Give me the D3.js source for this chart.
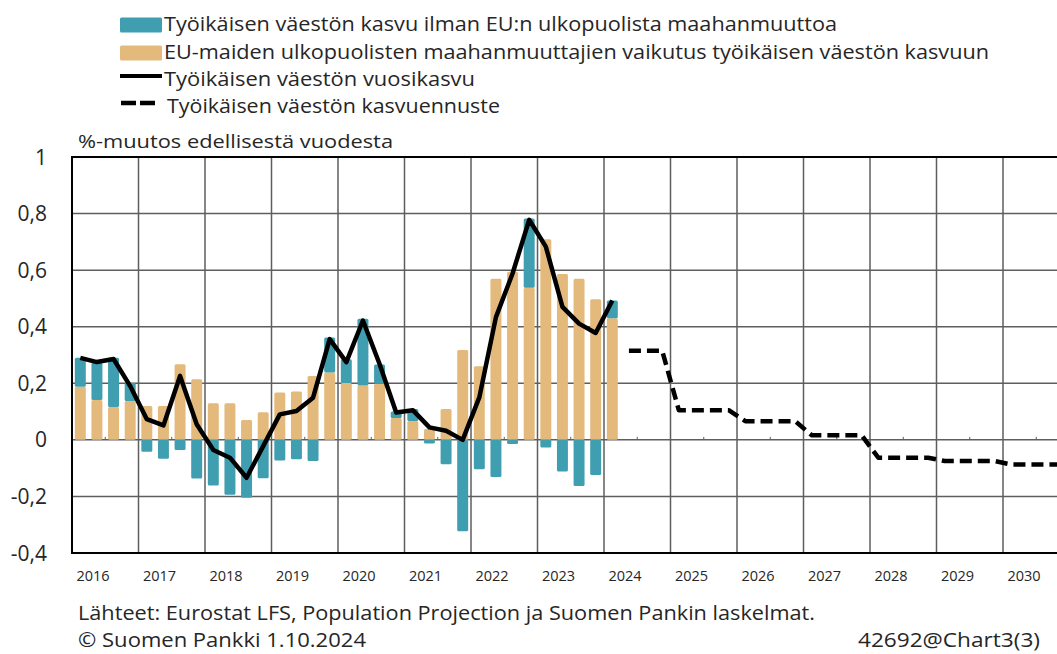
<!DOCTYPE html>
<html>
<head>
<meta charset="utf-8">
<script src="https://cdn.jsdelivr.net/npm/d3@7"></script>
<style>
  body { margin: 0; background: #fff; }
  svg { display: block; font-family: 'Open Sans', 'Noto Sans', sans-serif; }
</style>
</head>
<body>
<svg id="chart" width="1057" height="654"></svg>
<script>
// quarterly history 2016Q1 .. 2024Q1
const years = [2016, 2017, 2018, 2019, 2020, 2021, 2022, 2023, 2024, 2025, 2026, 2027, 2028, 2029, 2030];
const quarters = ['Q1', 'Q2', 'Q3', 'Q4'];

const nonEuImmigration = [
  0.188, 0.141, 0.116, 0.137,
  0.12, 0.12, 0.267, 0.214,
  0.129, 0.129, 0.07, 0.098,
  0.167, 0.171, 0.226, 0.238,
  0.201, 0.192, 0.198, 0.077,
  0.067, 0.038, 0.109, 0.318,
  0.26, 0.57, 0.594, 0.538,
  0.709, 0.586, 0.57, 0.497,
  0.43
];

const growthWithoutNonEu = [
  0.102, 0.132, 0.174, 0.065,
  -0.042, -0.067, -0.036, -0.137,
  -0.161, -0.194, -0.205, -0.136,
  -0.073, -0.069, -0.075, 0.124,
  0.084, 0.236, 0.068, 0.023,
  0.042, -0.013, -0.086, -0.323,
  -0.104, -0.131, -0.015, 0.245,
  -0.027, -0.112, -0.163, -0.124,
  0.063
];

const annualGrowth = [
  0.29, 0.275, 0.286, 0.19,
  0.073, 0.051, 0.226, 0.055,
  -0.036, -0.063, -0.134, -0.022,
  0.09, 0.102, 0.149, 0.356,
  0.275, 0.422, 0.268, 0.097,
  0.105, 0.044, 0.032, 0.0,
  0.15, 0.434, 0.588, 0.778,
  0.683, 0.47, 0.411, 0.378,
  0.493
];

// forecast, one value per year (2024 starts from Q2)
const forecastYears = [2024, 2025, 2026, 2027, 2028, 2029, 2030];
const forecastValues = [0.315, 0.105, 0.066, 0.016, -0.063, -0.075, -0.087];

const yTicks = [-0.4, -0.2, 0, 0.2, 0.4, 0.6, 0.8, 1];

const legendItems = [
  {type: 'rect', color: '#3f9fb0', label: 'Työikäisen väestön kasvu ilman EU:n ulkopuolista maahanmuuttoa', width: 673},
  {type: 'rect', color: '#e4b97c', label: 'EU-maiden ulkopuolisten maahanmuuttajien vaikutus työikäisen väestön kasvuun', width: 825},
  {type: 'line', label: 'Työikäisen väestön vuosikasvu', width: 311},
  {type: 'dash', label: 'Työikäisen väestön kasvuennuste', width: 333}
];

const teal = '#3f9fb0',
      tan = '#e4b97c',
      textColor = '#262626',
      gridColor = '#5e5e5e';

const svg = d3.select('#chart');

const plot = {left: 72, right: 1069.5, top: 157, bottom: 553};

// all quarter keys on the category axis
const keys = years.flatMap(y => quarters.map(q => `${y}${q}`));
const histKeys = keys.slice(0, nonEuImmigration.length);

const x = d3.scaleBand()
  .domain(keys)
  .range([plot.left, plot.right])
  .paddingInner(0.34)
  .paddingOuter(0.17);

const y = d3.scaleLinear()
  .domain([-0.4, 1])
  .range([plot.bottom, plot.top]);

const yearX = d3.scaleLinear()
  .domain([years[0], years[years.length - 1] + 1])
  .range([plot.left, plot.right]);

const cx = k => x(k) + x.bandwidth() / 2;
const fmt = v => String(+v.toFixed(1)).replace('.', ',');

// grid
const grid = svg.append('g').attr('class', 'grid');

grid.selectAll('.hgrid')
  .data(yTicks.filter(v => v > -0.4 && v < 1))
  .enter().append('line')
    .attr('class', 'hgrid')
    .attr('x1', plot.left).attr('x2', plot.right)
    .attr('y1', d => y(d)).attr('y2', d => y(d))
    .attr('stroke', gridColor)
    .attr('stroke-width', 1.5);

grid.selectAll('.vgrid')
  .data(years.slice(1))
  .enter().append('line')
    .attr('class', 'vgrid')
    .attr('x1', d => yearX(d)).attr('x2', d => yearX(d))
    .attr('y1', plot.top).attr('y2', plot.bottom)
    .attr('stroke', gridColor)
    .attr('stroke-width', 1.5);

// small ticks on the zero line at mid-year
grid.selectAll('.zerotick')
  .data(years)
  .enter().append('line')
    .attr('class', 'zerotick')
    .attr('x1', d => yearX(d + 0.5)).attr('x2', d => yearX(d + 0.5))
    .attr('y1', y(0) - 3).attr('y2', y(0))
    .attr('stroke', gridColor)
    .attr('stroke-width', 1);

// stacked bars: tan from zero, teal on top when positive, below zero when negative
const bars = svg.append('g').attr('class', 'bars');

const barData = histKeys.map((k, i) => {
  const a = nonEuImmigration[i], b = growthWithoutNonEu[i];
  const segs = [{key: k, y0: 0, y1: a, color: tan}];
  if (b >= 0) segs.push({key: k, y0: a, y1: a + b, color: teal});
  else segs.push({key: k, y0: 0, y1: b, color: teal});
  return segs;
}).flat();

bars.selectAll('rect')
  .data(barData)
  .enter().append('rect')
    .attr('x', d => x(d.key))
    .attr('width', x.bandwidth())
    .attr('y', d => y(Math.max(d.y0, d.y1)))
    .attr('height', d => Math.abs(y(d.y0) - y(d.y1)))
    .attr('rx', 1.5)
    .attr('fill', d => d.color);

// annual growth line
svg.append('path')
  .datum(histKeys.map((k, i) => [cx(k), y(annualGrowth[i])]))
  .attr('fill', 'none')
  .attr('stroke', '#000')
  .attr('stroke-width', 4.5)
  .attr('stroke-linejoin', 'round')
  .attr('d', d3.line());

// forecast step line: each year holds its value from first to last quarter
const forecastPts = [];
forecastYears.forEach((yr, i) => {
  const first = yr === 2024 ? 'Q2' : 'Q1';
  forecastPts.push([cx(`${yr}${first}`), y(forecastValues[i])]);
  forecastPts.push([cx(`${yr}Q4`), y(forecastValues[i])]);
});
// continue the last value to the plot edge
forecastPts.push([plot.right, y(forecastValues[forecastValues.length - 1])]);

svg.append('path')
  .datum(forecastPts)
  .attr('fill', 'none')
  .attr('stroke', '#000')
  .attr('stroke-width', 4.5)
  .attr('stroke-dasharray', '12,6')
  .attr('stroke-linejoin', 'round')
  .attr('d', d3.line());

// plot border
svg.append('rect')
  .attr('x', plot.left).attr('y', plot.top)
  .attr('width', plot.right - plot.left)
  .attr('height', plot.bottom - plot.top)
  .attr('fill', 'none')
  .attr('stroke', '#000')
  .attr('stroke-width', 2);

// y tick labels
svg.append('g')
  .selectAll('text')
  .data(yTicks)
  .enter().append('text')
    .attr('x', 47)
    .attr('y', d => y(d) + 7.5)
    .attr('text-anchor', 'end')
    .attr('font-size', 21)
    .attr('fill', textColor)
    .text(fmt);

// x year labels
svg.append('g')
  .selectAll('text')
  .data(years)
  .enter().append('text')
    .attr('x', d => yearX(d) + 21)
    .attr('y', 581)
    .attr('text-anchor', 'middle')
    .attr('font-size', 14.5)
    .attr('fill', textColor)
    .text(d => d);

// y-axis title
svg.append('text')
  .attr('x', 78).attr('y', 148)
  .attr('font-size', 19)
  .attr('fill', textColor)
  .attr('textLength', 315)
  .attr('lengthAdjust', 'spacingAndGlyphs')
  .text('%-muutos edellisestä vuodesta');

// legend
const legend = svg.append('g').attr('class', 'legend');
const rowY = [25, 53, 80, 107];

legendItems.forEach((item, i) => {
  const g = legend.append('g').attr('transform', `translate(0, ${rowY[i]})`);
  if (item.type === 'rect') {
    g.append('rect')
      .attr('x', 120).attr('y', -7.5)
      .attr('width', 42).attr('height', 15)
      .attr('rx', 1.5)
      .attr('fill', item.color);
  } else if (item.type === 'line') {
    g.append('line')
      .attr('x1', 120).attr('x2', 162)
      .attr('y1', -4).attr('y2', -4)
      .attr('stroke', '#000')
      .attr('stroke-width', 4);
  } else {
    g.append('line')
      .attr('x1', 121).attr('x2', 155)
      .attr('y1', -4).attr('y2', -4)
      .attr('stroke', '#000')
      .attr('stroke-width', 4.5)
      .attr('stroke-dasharray', '15,4');
  }
  g.append('text')
    .attr('x', item.type === 'dash' ? 167 : 164)
    .attr('y', 6)
    .attr('font-size', 20)
    .attr('fill', textColor)
    .attr('textLength', item.width)
    .attr('lengthAdjust', 'spacingAndGlyphs')
    .text(item.label);
});

// footer
svg.append('text')
  .attr('x', 78).attr('y', 620)
  .attr('font-size', 19.5)
  .attr('fill', textColor)
  .attr('textLength', 737)
  .attr('lengthAdjust', 'spacingAndGlyphs')
  .text('Lähteet: Eurostat LFS, Population Projection ja Suomen Pankin laskelmat.');

svg.append('text')
  .attr('x', 78).attr('y', 647)
  .attr('font-size', 19.5)
  .attr('fill', textColor)
  .attr('textLength', 288)
  .attr('lengthAdjust', 'spacingAndGlyphs')
  .text('© Suomen Pankki 1.10.2024');

svg.append('text')
  .attr('x', 858).attr('y', 647)
  .attr('font-size', 19.5)
  .attr('fill', textColor)
  .attr('textLength', 182)
  .attr('lengthAdjust', 'spacingAndGlyphs')
  .text('42692@Chart3(3)');
</script>
</body>
</html>
